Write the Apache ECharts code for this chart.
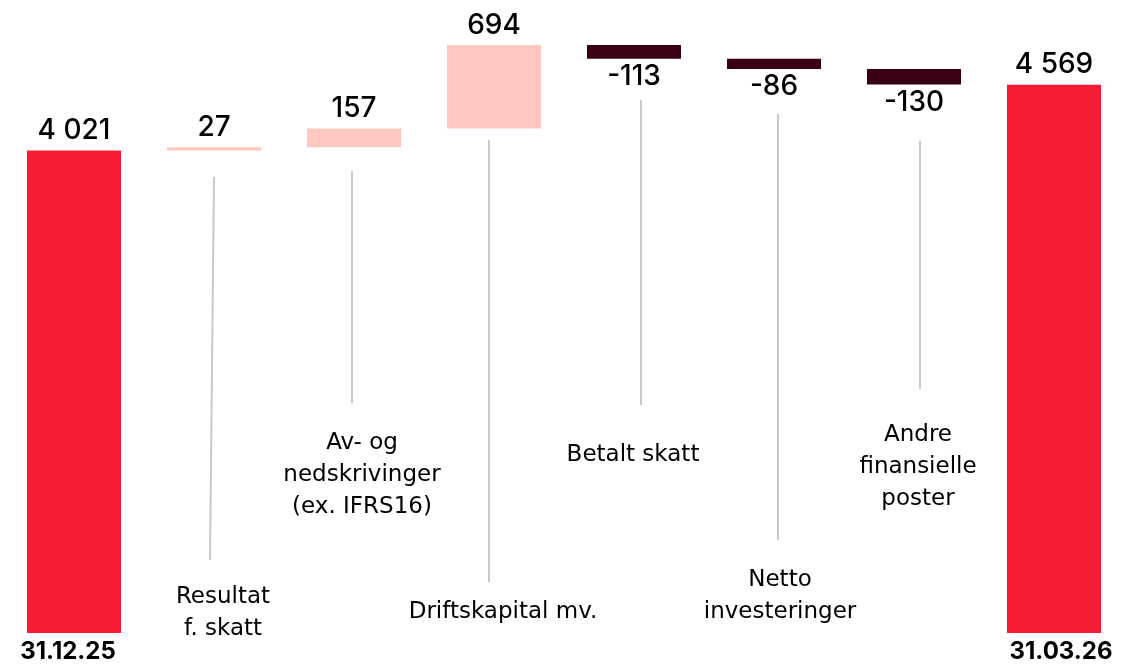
<!DOCTYPE html>
<html><head><meta charset="utf-8">
<script src="https://cdn.jsdelivr.net/npm/echarts@6/dist/echarts.min.js"></script>
<style>html,body{margin:0;padding:0;background:#fff}#c{width:1141px;height:665px}</style>
</head><body><div id="c"></div>
<script>
// ---- data ----
var categories = ['31.12.25', 'Resultat\nf. skatt', 'Av- og\nnedskrivinger\n(ex. IFRS16)', 'Driftskapital mv.', 'Betalt skatt', 'Netto\ninvesteringer', 'Andre\nfinansielle\nposter', '31.03.26'];
var values = [4021, 27, 157, 694, -113, -86, -130, 4569];
var isTotal = [true, false, false, false, false, false, false, true];

// ---- layout (pixels, annotations only) ----
// line: [dxTop, yTop, dxBottom, yBottom] ; text: [dx, yFirstLineCenter, bold]
var leaderLines = [null, [0, 177, -4, 560], [-2, 171, -2, 403], [-5, 140, -5, 582], [7, 100, 7, 405], [4, 114, 4, 540], [6, 141, 6, 389], null];
var catText = [[-6, 652, true], [9, 597, false], [8, 443, false], [9, 612, false], [-1, 455, false], [6, 580, false], [4, 435, false], [7, 652, true]];

var RED = '#F81D35', PINK = '#FEC8C0', DARK = '#3A0015';

// waterfall build
var base = [], totals = [], pos = [], neg = [];
var run = 0;
values.forEach(function (v, i) {
  if (isTotal[i]) {
    run = v;
    base.push(0); totals.push(v); pos.push('-'); neg.push('-');
  } else {
    var start = run, end = run + v;
    base.push(Math.min(start, end));
    totals.push('-');
    if (v >= 0) { pos.push(v); neg.push('-'); } else { pos.push('-'); neg.push(-v); }
    run = end;
  }
});

function fmt(v) {
  var s = String(Math.abs(v)).replace(/\B(?=(\d{3})+(?!\d))/g, ' ');
  return (v < 0 ? '-' : '') + s;
}

var FONT = 'Inter';
var CAT_FONT = 'DejaVu Sans';
var valueLabel = { show: true, fontFamily: FONT, fontSize: 28, fontWeight: 500, color: '#000' };

var chart = echarts.init(document.getElementById('c'), null, { renderer: 'canvas' });
chart.setOption({
  animation: false,
  grid: { left: 4, right: 17, top: 33, bottom: 32 },
  xAxis: { type: 'category', data: categories, axisLine: { show: false }, axisTick: { show: false }, axisLabel: { show: false } },
  yAxis: { type: 'value', min: 0, max: 5000, show: false, splitLine: { show: false } },
  series: [
    { type: 'bar', stack: 'w', data: base, barWidth: 94, itemStyle: { color: 'transparent' }, silent: true },
    { type: 'bar', stack: 'w', data: totals, barWidth: 94, itemStyle: { color: RED },
      label: Object.assign({}, valueLabel, { position: 'top', distance: 6, formatter: function (p) { return fmt(values[p.dataIndex]); } }) },
    { type: 'bar', stack: 'w', data: pos, barWidth: 94, itemStyle: { color: PINK },
      label: Object.assign({}, valueLabel, { position: 'top', distance: 6, formatter: function (p) { return fmt(values[p.dataIndex]); } }) },
    { type: 'bar', stack: 'w', data: neg, barWidth: 94, itemStyle: { color: DARK },
      label: Object.assign({}, valueLabel, { position: 'bottom', distance: 4, formatter: function (p) { return fmt(values[p.dataIndex]); } }) },
    { type: 'custom', silent: true, z: 5,
      data: categories.map(function (c, i) { return [i, 0]; }),
      renderItem: function (params, api) {
        var i = api.value(0);
        var x = api.coord([i, 0])[0];
        var children = [];
        var ln = leaderLines[i];
        if (ln) {
          children.push({ type: 'line', shape: { x1: x + ln[0], y1: ln[1], x2: x + ln[2], y2: ln[3] },
            style: { stroke: '#C8C8C8', lineWidth: 2 } });
        }
        var t = catText[i];
        var bold = t[2];
        var lh = 32;
        children.push({ type: 'text', x: x + t[0], y: t[1] - lh / 2,
          style: { text: categories[i], fontFamily: bold ? FONT : CAT_FONT, fontSize: bold ? 24 : 23, fontWeight: bold ? 700 : 400,
            fill: '#000', align: 'center', verticalAlign: 'top', lineHeight: lh } });
        return { type: 'group', children: children };
      }
    }
  ]
});
</script></body></html>
